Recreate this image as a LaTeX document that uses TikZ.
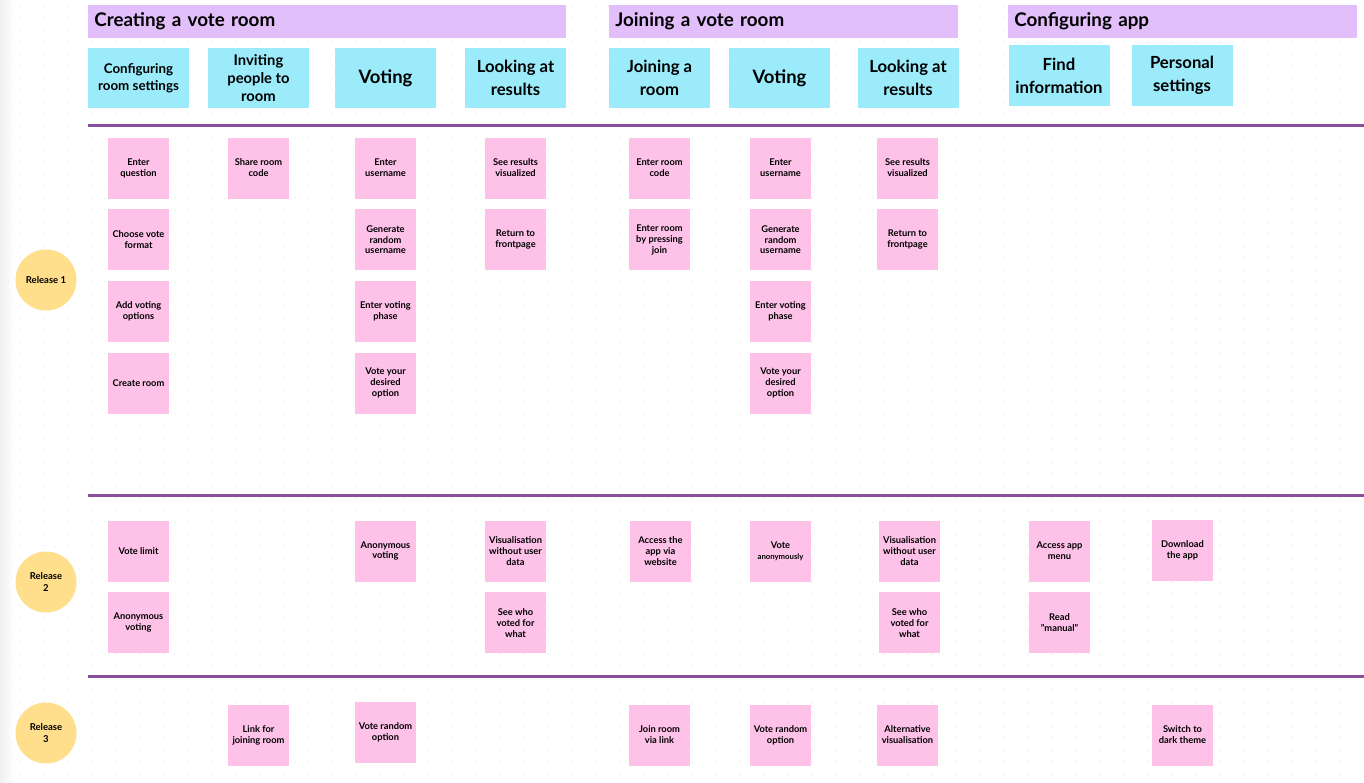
\documentclass[tikz,border=0pt]{standalone}
\usepackage{fontspec}
\setmainfont{Lato}
\usetikzlibrary{positioning}
\definecolor{epicpurple}{HTML}{E2BEFA}
\definecolor{activitycyan}{HTML}{9BEBFB}
\definecolor{stickypink}{HTML}{FEC2E9}
\definecolor{releaseyellow}{HTML}{FFDF8C}
\definecolor{linepurple}{HTML}{8A4E9E}
\definecolor{gridgray}{HTML}{ECECEC}
\tikzset{
    %Define style for epic headers
    epic/.style={
           rectangle,
           fill=epicpurple,
           anchor=west,
           inner xsep=0.12cm,
           minimum height=0.66cm,
           align=left,
           font=\fontsize{10.7}{12}\selectfont\bfseries},
    %Define style for activity boxes
    activity/.style={
           rectangle,
           fill=activitycyan,
           minimum width=2.02cm,
           minimum height=1.2cm,
           inner sep=1pt,
           align=center,
           font=\fontsize{9.5}{13}\selectfont\bfseries},
    %Define style for stickies
    sticky/.style={
           rectangle,
           fill=stickypink,
           minimum width=1.22cm,
           minimum height=1.22cm,
           inner sep=1pt,
           align=center,
           font=\fontsize{5.3}{6.2}\selectfont\bfseries},
    %Define style for release markers
    release/.style={
           circle,
           fill=releaseyellow,
           minimum size=1.22cm,
           inner sep=0pt,
           align=center,
           font=\fontsize{5.4}{6.6}\selectfont\bfseries},
    % Define separator style
    lane/.style={
           draw=linepurple,
           line width=0.06cm}
}

\begin{document}
\begin{tikzpicture}[x=0.02cm,y=-0.02cm,node distance=0.2cm]
\useasboundingbox (0,0) rectangle (1364,782);
\fill[white] (0,0) rectangle (1364,782);
\shade[left color=black!6, right color=white] (0,0) rectangle (14,782);
% dot grid
\foreach \i in {0,...,112}
  \foreach \j in {0,...,64}
    \fill[gridgray] (\i*12+8,\j*12+6) circle (0.55pt);

% epics
\node[epic, text width=9.32cm] (creating) at (88,21) {Creating a vote room};
\node[epic, text width=6.74cm] (joining) at (609,21) {Joining a vote room};
\node[epic, text width=6.74cm] (configapp) at (1008,21) {Configuring app};

% activities
\node[activity, font=\fontsize{7.6}{9.6}\selectfont\bfseries] (roomsettings) at (138.5,78) {Configuring\\room settings};
\node[activity, font=\fontsize{8.4}{10}\selectfont\bfseries] (inviting) at (258.5,78) {Inviting\\people to\\room};
\node[activity, font=\fontsize{10.5}{13}\selectfont\bfseries] (voting) at (385.5,78) {Voting};
\node[activity] (results) at (515.5,78) {Looking at\\results};
\node[activity] (joinroom) at (659.5,78) {Joining a\\room};
\node[activity, font=\fontsize{10.5}{13}\selectfont\bfseries] (votingb) at (779.5,78) {Voting};
\node[activity] (resultsb) at (908,78) {Looking at\\results};
\node[activity, minimum height=1.22cm] (findinfo) at (1059,75.5) {Find\\information};
\node[activity, minimum height=1.22cm] (personal) at (1182,75.5) {Personal\\settings};

% lanes
\coordinate (lanea) at (88,125);
\coordinate (laneb) at (88,495);
\coordinate (lanec) at (88,676);
\draw[lane] (lanea) -- (1364,125);
\draw[lane] (laneb) -- (1364,495);
\draw[lane] (lanec) -- (1364,676);

% releases
\node[release] (rone) at (46,280) {Release 1};
\node[release] (rtwo) at (46,582) {Release\\2};
\node[release] (rthree) at (46,733) {Release\\3};

% release 1
\node[sticky] (question) at (138.5,168) {Enter\\question};
\node[sticky, below=of question] (format) {Choose vote\\format};
\node[sticky, below=of format] (options) {Add voting\\options};
\node[sticky, below=of options] (create) {Create room};
\node[sticky] (share) at (258.5,168) {Share room\\code};
\node[sticky] (username) at (385.5,168) {Enter\\username};
\node[sticky, below=of username] (random) {Generate\\random\\username};
\node[sticky, below=of random] (phase) {Enter voting\\phase};
\node[sticky, below=of phase] (desired) {Vote your\\desired\\option};
\node[sticky] (visualized) at (515.5,168) {See results\\visualized};
\node[sticky, below=of visualized] (front) {Return to\\frontpage};
\node[sticky] (roomcode) at (659.5,168) {Enter room\\code};
\node[sticky, below=of roomcode] (pressjoin) {Enter room\\by pressing\\join};
\node[sticky] (usernameb) at (780.5,168) {Enter\\username};
\node[sticky, below=of usernameb] (randomb) {Generate\\random\\username};
\node[sticky, below=of randomb] (phaseb) {Enter voting\\phase};
\node[sticky, below=of phaseb] (desiredb) {Vote your\\desired\\option};
\node[sticky] (visualizedb) at (907.5,168) {See results\\visualized};
\node[sticky, below=of visualizedb] (frontb) {Return to\\frontpage};

% release 2
\node[sticky] (limit) at (138.5,551) {Vote limit};
\node[sticky, below=of limit] (anon) {Anonymous\\voting};
\node[sticky] (anonb) at (385.5,551) {Anonymous\\voting};
\node[sticky] (nouser) at (515.5,551) {Visualisation\\without user\\data};
\node[sticky, below=of nouser] (whovoted) {See who\\voted for\\what};
\node[sticky] (website) at (660.5,551) {Access the\\app via\\website};
\node[sticky] (anonc) at (780.5,551) {Vote\\{\fontsize{4.4}{6}\selectfont anonymously}};
\node[sticky] (nouserb) at (909.5,551) {Visualisation\\without user\\data};
\node[sticky, below=of nouserb] (whovotedb) {See who\\voted for\\what};
\node[sticky] (appmenu) at (1059.5,551) {Access app\\menu};
\node[sticky, below=of appmenu] (manual) {Read\\"manual"};
\node[sticky] (download) at (1182.5,550) {Download\\the app};

% release 3
\node[sticky] (link) at (258.5,735) {Link for\\joining room};
\node[sticky] (randopt) at (385.5,732) {Vote random\\option};
\node[sticky] (vialink) at (659.5,735) {Join room\\via link};
\node[sticky] (randoptb) at (780.5,735) {Vote random\\option};
\node[sticky] (altvis) at (907.5,735) {Alternative\\visualisation};
\node[sticky] (dark) at (1182.5,735) {Switch to\\dark theme};
\end{tikzpicture}
\end{document}
